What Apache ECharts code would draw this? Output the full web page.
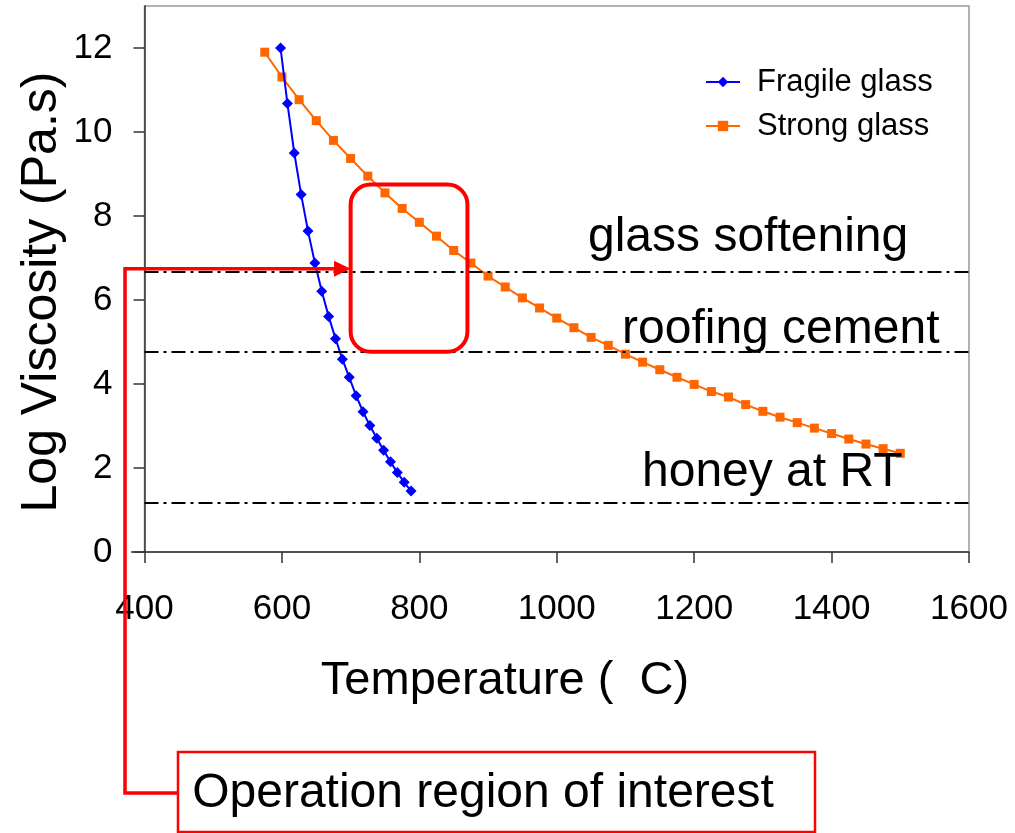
<!DOCTYPE html>
<html><head><meta charset="utf-8">
<script src="https://cdn.jsdelivr.net/npm/echarts@6/dist/echarts.min.js"></script>
<style>html,body{margin:0;padding:0;background:#fff}#c{width:1015px;height:833px}</style>
</head><body><div id="c"></div>
<script>
// ---- data ----
const fragileT = [598, 608, 618, 628, 638, 648, 658, 668, 678, 688, 698, 708, 718, 728, 738, 748, 758, 768, 778, 788];
const fragileV = [12.0, 10.68, 9.50, 8.51, 7.64, 6.88, 6.21, 5.61, 5.08, 4.59, 4.16, 3.72, 3.34, 3.01, 2.71, 2.42, 2.15, 1.89, 1.66, 1.45];
const strongT = [575, 600, 625, 650, 675, 700, 725, 750, 775, 800, 825, 850, 875, 900, 925, 950, 975, 1000, 1025, 1050, 1075, 1100, 1125, 1150, 1175, 1200, 1225, 1250, 1275, 1300, 1325, 1350, 1375, 1400, 1425, 1450, 1475, 1500];
const strongV = [11.90, 11.31, 10.77, 10.27, 9.80, 9.37, 8.95, 8.55, 8.18, 7.85, 7.52, 7.18, 6.88, 6.57, 6.31, 6.05, 5.81, 5.57, 5.34, 5.11, 4.92, 4.71, 4.52, 4.34, 4.16, 3.99, 3.82, 3.69, 3.51, 3.35, 3.21, 3.08, 2.95, 2.82, 2.69, 2.57, 2.46, 2.35];
const seriesNames = ['Fragile glass', 'Strong glass'];
const refLevels = [6.67, 4.77, 1.17];
const refNames = ['glass softening', 'roofing cement', 'honey at RT'];
const xRange = [400, 1600, 200];
const yRange = [0, 13, 2];
const regionT = [700, 870];
const regionV = [4.77, 8.75];
const xTitle = 'Temperature (  C)';
const yTitle = 'Log Viscosity (Pa.s)';
const noteText = 'Operation region of interest';

const FONT = "'Liberation Sans', Arial, Helvetica, sans-serif";
const chart = echarts.init(document.getElementById('c'), null, {renderer: 'canvas'});

const pairs = (xs, ys) => xs.map((x, i) => [x, ys[i]]);

chart.setOption({
  animation: false,
  backgroundColor: '#fff',
  grid: {left: 144.5, right: 46, top: 6, bottom: 281, show: true, borderColor: '#999', borderWidth: 1.5, backgroundColor: 'transparent'},
  legend: {
    orient: 'vertical', left: 700, top: 61, itemWidth: 34, itemHeight: 13, itemGap: 12,
    data: seriesNames,
    textStyle: {fontFamily: FONT, fontSize: 31, color: '#000', lineHeight: 32, padding: [0, 0, 0, 12]}
  },
  xAxis: {
    type: 'value', min: xRange[0], max: xRange[1], interval: xRange[2],
    axisLine: {show: true, onZero: false, lineStyle: {color: '#333', width: 1.5}},
    axisTick: {show: true, inside: false, length: 11, lineStyle: {color: '#333', width: 1.5}},
    axisLabel: {fontFamily: FONT, fontSize: 35, color: '#000', margin: 40, formatter: v => String(v)},
    splitLine: {show: false}
  },
  yAxis: {
    type: 'value', min: yRange[0], max: yRange[1], interval: yRange[2],
    axisLine: {show: true, lineStyle: {color: '#333', width: 1.5}},
    axisTick: {show: true, inside: false, length: 11, lineStyle: {color: '#333', width: 1.5}},
    axisLabel: {fontFamily: FONT, fontSize: 35, color: '#000', margin: 32, showMaxLabel: false, formatter: v => String(v)},
    splitLine: {show: false}
  },
  series: [
    {
      name: seriesNames[0], type: 'line', data: pairs(fragileT, fragileV),
      symbol: 'diamond', symbolSize: 11, color: '#0000FF',
      lineStyle: {width: 2, color: '#0000FF'}, itemStyle: {color: '#0000FF'}, z: 4
    },
    {
      name: seriesNames[1], type: 'line', data: pairs(strongT, strongV),
      symbol: 'rect', symbolSize: 9, color: '#FF6600',
      lineStyle: {width: 2, color: '#FF6600'}, itemStyle: {color: '#FF6600'}, z: 3,
      markLine: {
        silent: true, symbol: ['none', 'none'], animation: false,
        label: {show: false},
        lineStyle: {color: '#000', width: 2, type: [14, 5, 3, 5]},
        data: refLevels.map(v => ({yAxis: v}))
      }
    }
  ]
});

// annotations
const p0 = chart.convertToPixel({gridIndex: 0}, [regionT[0], regionV[1]]);
const p1 = chart.convertToPixel({gridIndex: 0}, [regionT[1], regionV[0]]);
const arrowY = chart.convertToPixel({gridIndex: 0}, [0, refLevels[0]])[1] - 3;
const lineX = 125;
const boxY = 793;
const refLeft = [588, 622, 642];
const refOffset = [34, 22, 30];
const txt = (x, y, t, size, align, extra) => Object.assign({
  type: 'text', x: x, y: y, z: 100,
  style: {text: t, fontFamily: FONT, fontSize: size, fill: '#000', align: align, verticalAlign: 'middle'}
}, extra || {});

const graphics = [];
refLevels.forEach((v, i) => {
  const py = chart.convertToPixel({gridIndex: 0}, [0, v])[1];
  graphics.push(txt(refLeft[i], py - refOffset[i], refNames[i], 48, 'left'));
});
graphics.push(
  {type: 'rect', z: 90, shape: {x: p0[0], y: p0[1], width: p1[0] - p0[0], height: p1[1] - p0[1], r: 20},
   style: {fill: 'none', stroke: '#FF0000', lineWidth: 4}},
  {type: 'polyline', z: 90, shape: {points: [[336, arrowY], [lineX, arrowY], [lineX, boxY], [178, boxY]]},
   style: {fill: 'none', stroke: '#FF0000', lineWidth: 3.5}},
  {type: 'polygon', z: 90, shape: {points: [[334, arrowY - 8], [p0[0], arrowY], [334, arrowY + 8]]},
   style: {fill: '#FF0000'}},
  {type: 'rect', z: 90, shape: {x: 178, y: 752, width: 637, height: 80},
   style: {fill: '#fff', stroke: '#FF0000', lineWidth: 2.5}},
  txt(483, 794, noteText, 48, 'center'),
  txt(505, 681, xTitle, 47, 'center'),
  txt(42, 292, yTitle, 50, 'center', {rotation: Math.PI / 2}),
  {type: 'line', z: 5, shape: {x1: 131, y1: 552, x2: 145, y2: 552}, style: {stroke: '#333', lineWidth: 1.5}}
);
chart.setOption({graphic: graphics});
</script>
</body></html>
